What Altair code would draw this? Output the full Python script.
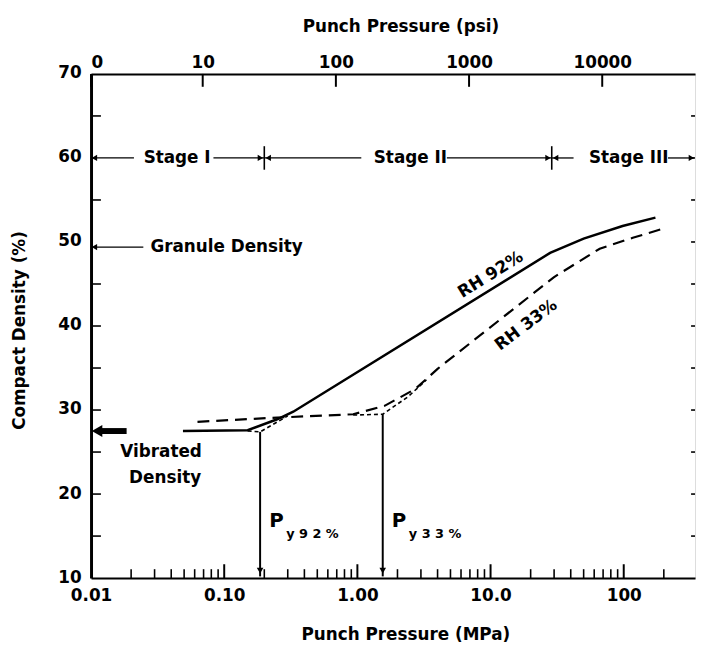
import altair as alt
import pandas as pd

# ---------------- data ----------------
# RH 92% (solid)
rh92_x = [0.049, 0.15, 0.25, 0.33, 28, 50, 98, 173]
rh92_y = [27.5, 27.6, 28.9, 29.8, 48.7, 50.4, 51.9, 52.9]
# RH 33% (dashed)
rh33_x = [0.063, 0.25, 0.93, 1.6, 2.72, 4.0, 29.8, 66, 117, 189]
rh33_y = [28.6, 29.1, 29.5, 30.5, 32.5, 34.9, 45.8, 49.2, 50.5, 51.5]
# dotted extrapolations to the yield points
ext92_x = [0.15, 0.186, 0.3]
ext92_y = [27.5, 27.4, 29.3]
ext33_x = [0.93, 1.55, 2.41, 3.3]
ext33_y = [29.4, 29.5, 31.6, 33.6]
# yield pressures
py_x = [0.186, 1.55]
py_top = [27.4, 29.5]
py_names = ["y 9 2 %", "y 3 3 %"]

# axes
mpa_ticks = [0.01, 0.1, 1, 10, 100]
mpa_labels = ["0.01", "0.10", "1.00", "10.0", "100"]
mpa_major = [0.1, 1, 10, 100]
mpa_minor = [0.02, 0.03, 0.04, 0.05, 0.06, 0.07, 0.08, 0.09,
             0.2, 0.3, 0.4, 0.5, 0.6, 0.7, 0.8, 0.9,
             2, 3, 4, 5, 6, 7, 8, 9,
             20, 30, 40, 50, 60, 70, 80, 90, 200]
psi_values = [0, 10, 100, 1000, 10000]
psi_labels = ["0", "10", "100", "1000", "10000"]
PSI_TO_MPA = 0.0068948
y_ticks = [10, 20, 30, 40, 50, 60, 70]
y_minor = [15, 20, 25, 30, 35, 40, 45, 55, 65]
y_right = [15, 20, 25, 30, 35, 40, 45, 50, 55, 60, 65]

# annotations
stage_names = ["Stage I", "Stage II", "Stage III"]
stage_x = [0.0443, 2.5, 109]
stage_y = 60
stage_seg_lo = [0.01, 0.083, 0.2, 4.7, 28.8, 215]
stage_seg_hi = [0.021, 0.2, 1.07, 28.8, 42, 335]
stage_div = [0.2, 28.8]
arrow_x = [0.0106, 0.187, 0.214, 27.0, 30.8, 322, 0.0106]
arrow_y = [60, 60, 60, 60, 60, 60, 49.4]
arrow_shape = ["triangle-left", "triangle-right", "triangle-left", "triangle-right",
               "triangle-left", "triangle-right", "triangle-left"]
gran_seg = [0.0105, 0.0247]
gran_y = 49.4
vib_seg = [0.0118, 0.0185]
vib_y = 27.5
labels_txt = ["Granule Density", "Vibrated", "Density"]
labels_x = [0.0279, 0.0336, 0.036]
labels_y = [49.4, 25.0, 21.9]
labels_align = ["left", "center", "center"]
rh_txt = ["RH 92%", "RH 33%"]
rh_x = [10, 18.5]
rh_y = [46.1, 40.1]
rh_angle = [328, 323]

# ---------------- chart ----------------
FONT = "DejaVu Sans"
W, H = 611, 510
xs = alt.Scale(type="log", domain=[0.01, 343], nice=False)
ys = alt.Scale(domain=[10, 70], nice=False, zero=False)
NOX = dict(scale=xs, axis=None)


def lab_expr(vals, labs):
    expr = "'" + labs[-1] + "'"
    for i in range(len(vals) - 2, -1, -1):
        mid = (vals[i] * vals[i + 1]) ** 0.5
        expr = f"datum.value < {mid} ? '{labs[i]}' : ({expr})"
    return expr


psi_mpa = [max(v * PSI_TO_MPA, 0.01) for v in psi_values]

df92 = pd.DataFrame({"x": rh92_x, "y": rh92_y})
df33 = pd.DataFrame({"x": rh33_x, "y": rh33_y})
dfe92 = pd.DataFrame({"x": ext92_x, "y": ext92_y})
dfe33 = pd.DataFrame({"x": ext33_x, "y": ext33_y})

line92 = alt.Chart(df92).mark_line(color="black", strokeWidth=2.5).encode(
    x=alt.X("x:Q", scale=xs, axis=alt.Axis(
        orient="bottom", values=mpa_ticks, labelExpr=lab_expr(mpa_ticks, mpa_labels),
        ticks=False, grid=False, domainColor="black", domainWidth=2, labelFlush=False,
        labelPadding=10, labelFontSize=17, labelFont=FONT, labelFontWeight="bold",
        labelColor="black", title="Punch Pressure (MPa)", titleFont=FONT,
        titleFontSize=17, titleFontWeight="bold", titleColor="black",
        titleX=318, titleY=57, titleBaseline="middle")),
    y=alt.Y("y:Q", scale=ys, axis=alt.Axis(
        values=y_ticks, ticks=False, grid=False, domainColor="black", domainWidth=3,
        labelPadding=10, labelFontSize=17, labelFont=FONT, labelFontWeight="bold",
        labelColor="black", title="Compact Density (%)", titleFont=FONT,
        titleFontSize=17, titleFontWeight="bold", titleColor="black",
        labelExpr="datum.value", labelOffset=-1,
        titleX=-72, titleY=259, titleAngle=270, titleBaseline="middle")),
    order="x:Q",
)
line33 = alt.Chart(df33).mark_line(color="black", strokeWidth=2.2, strokeDash=[12, 7]).encode(
    x=alt.X("x:Q", **NOX), y=alt.Y("y:Q", scale=ys), order="x:Q")
ext92 = alt.Chart(dfe92).mark_line(color="black", strokeWidth=1.6, strokeDash=[4, 3]).encode(
    x=alt.X("x:Q", **NOX), y=alt.Y("y:Q", scale=ys), order="x:Q")
ext33 = alt.Chart(dfe33).mark_line(color="black", strokeWidth=1.6, strokeDash=[4, 3]).encode(
    x=alt.X("x:Q", **NOX), y=alt.Y("y:Q", scale=ys), order="x:Q")

# yield pressure drop lines
dfpy = pd.DataFrame({"x": py_x, "top": py_top, "bot": [10.2] * len(py_x), "head": [10.9] * len(py_x)})
pyl = alt.Chart(dfpy).mark_rule(color="black", strokeWidth=2).encode(
    x=alt.X("x:Q", **NOX), y=alt.Y("top:Q", scale=ys), y2="bot:Q")
pyh = alt.Chart(dfpy).mark_point(shape="triangle-down", filled=True, color="black", size=45, opacity=1).encode(
    x=alt.X("x:Q", **NOX), y=alt.Y("head:Q", scale=ys))
dfpt = pd.DataFrame({"x": [v * 1.17 for v in py_x], "xs": [v * 1.57 for v in py_x], "sub": py_names})
pyP = alt.Chart(dfpt).mark_text(text="P", font=FONT, fontSize=20, fontWeight="bold", align="left",
                                baseline="middle", color="black").encode(
    x=alt.X("x:Q", **NOX), y=alt.value(H - (16.8 - 10) * H / 60))
pyS = alt.Chart(dfpt).mark_text(font=FONT, fontSize=13, fontWeight="bold", align="left",
                                baseline="middle", color="black").encode(
    x=alt.X("xs:Q", **NOX), y=alt.value(H - (15.3 - 10) * H / 60), text="sub:N")

# ticks drawn inward
tk_major = alt.Chart(pd.DataFrame({"x": mpa_major})).mark_rule(color="black", strokeWidth=2).encode(
    x=alt.X("x:Q", **NOX), y=alt.value(H), y2=alt.value(H - 14))
tk_minor = alt.Chart(pd.DataFrame({"x": mpa_minor})).mark_rule(color="black", strokeWidth=1.6).encode(
    x=alt.X("x:Q", **NOX), y=alt.value(H), y2=alt.value(H - 9))
tk_top = alt.Chart(pd.DataFrame({"x": psi_mpa})).mark_rule(color="black", strokeWidth=2).encode(
    x=alt.X("x:Q", scale=xs, axis=alt.Axis(
        orient="top", values=psi_mpa, labelExpr=lab_expr(psi_mpa, psi_labels),
        ticks=False, grid=False, domainColor="black", domainWidth=2,
        labelPadding=3, labelFontSize=17, labelFont=FONT, labelFontWeight="bold",
        labelColor="black", title="Punch Pressure (psi)", titleFont=FONT,
        titleFontSize=17, titleFontWeight="bold", titleColor="black",
        titleX=313, titleY=-48, titleBaseline="middle")),
    y=alt.value(0), y2=alt.value(13))
tk_left = alt.Chart(pd.DataFrame({"y": y_minor})).mark_rule(color="black", strokeWidth=1.6).encode(
    y=alt.Y("y:Q", scale=ys), x=alt.value(0), x2=alt.value(10))
tk_right = alt.Chart(pd.DataFrame({"y": y_right})).mark_rule(color="black", strokeWidth=1.6).encode(
    y=alt.Y("y:Q", scale=ys), x=alt.value(W), x2=alt.value(W - 4))

# stage annotations
dfseg = pd.DataFrame({"lo": stage_seg_lo, "hi": stage_seg_hi, "y": [stage_y] * len(stage_seg_lo)})
segs = alt.Chart(dfseg).mark_rule(color="black", strokeWidth=1.3).encode(
    x=alt.X("lo:Q", **NOX), x2="hi:Q", y=alt.Y("y:Q", scale=ys))
dfdiv = pd.DataFrame({"x": stage_div, "a": [58.6] * 2, "b": [61.4] * 2})
divs = alt.Chart(dfdiv).mark_rule(color="black", strokeWidth=1.6).encode(
    x=alt.X("x:Q", **NOX), y=alt.Y("a:Q", scale=ys), y2="b:Q")
dfarr = pd.DataFrame({"x": arrow_x, "y": arrow_y, "s": arrow_shape})
arrs = alt.Chart(dfarr).mark_point(filled=True, color="black", size=40, opacity=1).encode(
    x=alt.X("x:Q", **NOX), y=alt.Y("y:Q", scale=ys), shape=alt.Shape("s:N", scale=None))
dfst = pd.DataFrame({"x": stage_x, "t": stage_names, "y": [stage_y] * 3})
stxt = alt.Chart(dfst).mark_text(font=FONT, fontSize=17, fontWeight="bold", color="black",
                                 baseline="middle").encode(
    x=alt.X("x:Q", **NOX), y=alt.Y("y:Q", scale=ys), text="t:N")

gran = alt.Chart(pd.DataFrame({"lo": [gran_seg[0]], "hi": [gran_seg[1]], "y": [gran_y]})).mark_rule(
    color="black", strokeWidth=1.3).encode(x=alt.X("lo:Q", **NOX), x2="hi:Q", y=alt.Y("y:Q", scale=ys))
vib = alt.Chart(pd.DataFrame({"lo": [vib_seg[0]], "hi": [vib_seg[1]], "y": [vib_y]})).mark_rule(
    color="black", strokeWidth=6).encode(x=alt.X("lo:Q", **NOX), x2="hi:Q", y=alt.Y("y:Q", scale=ys))
vibh = alt.Chart(pd.DataFrame({"x": [0.0111], "y": [vib_y]})).mark_point(
    shape="triangle-left", filled=True, color="black", size=150, opacity=1).encode(
    x=alt.X("x:Q", **NOX), y=alt.Y("y:Q", scale=ys))

dflab = pd.DataFrame({"x": labels_x, "y": labels_y, "t": labels_txt, "a": labels_align})
labs = []
for i in range(len(labels_txt)):
    labs.append(alt.Chart(dflab.iloc[[i]]).mark_text(
        font=FONT, fontSize=17, fontWeight="bold", color="black", baseline="middle",
        align=labels_align[i]).encode(x=alt.X("x:Q", **NOX), y=alt.Y("y:Q", scale=ys), text="t:N"))

dfrh = pd.DataFrame({"x": rh_x, "y": rh_y, "t": rh_txt})
rhs = []
for i in range(len(rh_txt)):
    rhs.append(alt.Chart(dfrh.iloc[[i]]).mark_text(
        font=FONT, fontSize=17, fontWeight="bold", color="black", baseline="middle",
        angle=rh_angle[i]).encode(x=alt.X("x:Q", **NOX), y=alt.Y("y:Q", scale=ys), text="t:N"))

chart = alt.layer(
    line92, line33, ext92, ext33, pyl, pyh, pyP, pyS,
    tk_major, tk_minor, tk_top, tk_left, tk_right,
    segs, divs, arrs, stxt, gran, vib, vibh, *labs, *rhs,
).resolve_scale(x="independent").properties(
    width=W, height=H,
    autosize=alt.AutoSizeParams(type="none"),
    padding={"left": 84, "top": 63, "right": 2, "bottom": 65},
).configure_view(stroke=None).configure(background="white")

chart.save("out.html", embed_options={"renderer": "svg", "actions": False})
